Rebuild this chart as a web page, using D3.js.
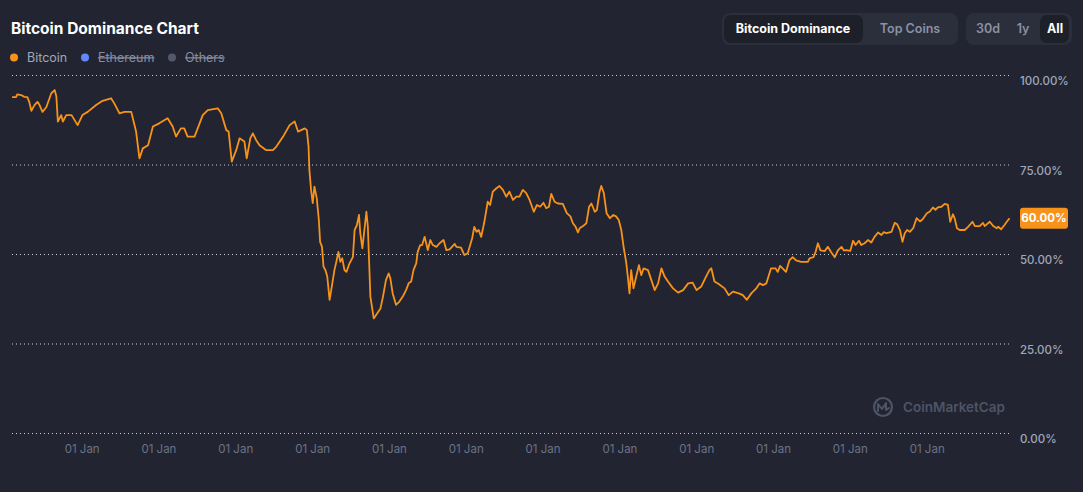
<!DOCTYPE html>
<html>
<head>
<meta charset="utf-8">
<script src="https://cdn.jsdelivr.net/npm/d3@7"></script>
<style>
  html, body { margin: 0; padding: 0; background: #222531; }
  body { width: 1083px; height: 492px; overflow: hidden; font-family: Inter, 'Noto Sans', sans-serif; }
  svg text { font-family: Inter, 'Noto Sans', sans-serif; }
</style>
</head>
<body>
<div id="chart"></div>
<script>
// bitcoin dominance
const dates = [
  '2013-04-28','2013-05-17','2013-05-23','2013-06-10','2013-06-26','2013-07-10','2013-07-19','2013-07-29',
  '2013-08-13','2013-08-27','2013-09-06','2013-09-20','2013-10-08','2013-11-01','2013-11-17','2013-11-25',
  '2013-12-02','2013-12-18','2013-12-26',
  '2014-01-11','2014-02-05','2014-03-06','2014-03-29','2014-04-23','2014-06-02','2014-07-03','2014-08-12',
  '2014-08-28','2014-09-21','2014-10-15','2014-11-16','2014-12-09','2014-12-25',
  '2015-01-10','2015-02-04','2015-02-27','2015-03-29','2015-05-08','2015-06-01','2015-06-17','2015-07-10',
  '2015-07-26','2015-08-11','2015-09-13','2015-10-22','2015-11-15','2016-01-01',
  '2016-01-18','2016-02-11','2016-02-22','2016-03-08','2016-03-29','2016-04-14','2016-05-07','2016-05-18',
  '2016-06-04','2016-06-16','2016-07-02','2016-07-18','2016-08-19','2016-09-20','2016-10-06','2016-11-07',
  '2016-12-08','2017-01-01',
  '2017-01-17','2017-02-18','2017-02-28','2017-03-08','2017-03-12','2017-03-20','2017-03-28','2017-04-05',
  '2017-04-16','2017-04-26','2017-05-02','2017-05-11','2017-05-18','2017-05-27','2017-06-05','2017-06-16',
  '2017-06-24','2017-07-09','2017-07-20','2017-07-28','2017-08-06','2017-08-15','2017-08-26','2017-09-04',
  '2017-09-19','2017-10-05','2017-10-13','2017-10-24','2017-11-03','2017-11-09','2017-11-19','2017-11-25',
  '2017-12-08','2017-12-15','2017-12-27',
  '2018-01-12','2018-01-28','2018-02-13','2018-02-25','2018-03-11','2018-03-24','2018-04-01','2018-04-12',
  '2018-04-28','2018-05-14','2018-05-30','2018-06-15','2018-06-27','2018-07-09','2018-07-20','2018-08-02',
  '2018-08-09','2018-08-21','2018-08-30','2018-09-11','2018-09-26','2018-10-08','2018-10-20','2018-11-06',
  '2018-11-21','2018-12-10','2018-12-23',
  '2019-01-08','2019-02-01','2019-02-09','2019-03-03','2019-03-19','2019-04-04','2019-04-25','2019-05-05',
  '2019-05-16','2019-05-26','2019-06-07','2019-06-22','2019-07-08','2019-07-19','2019-08-01','2019-08-17',
  '2019-09-02','2019-09-18','2019-10-04','2019-10-19','2019-11-05','2019-11-21','2019-12-06','2019-12-22',
  '2020-01-07','2020-01-23','2020-02-12','2020-02-27','2020-03-13','2020-03-29','2020-04-11','2020-04-24',
  '2020-05-05','2020-05-21','2020-06-06','2020-06-29','2020-07-18','2020-08-04','2020-08-16','2020-08-29',
  '2020-09-09','2020-09-17','2020-10-03','2020-10-19','2020-11-01','2020-11-12','2020-11-28','2020-12-08',
  '2020-12-21','2020-12-29',
  '2021-01-10','2021-01-23','2021-02-08','2021-02-24','2021-03-09','2021-03-22','2021-04-03','2021-04-14',
  '2021-04-27','2021-05-04','2021-05-12','2021-05-20','2021-05-31','2021-06-13','2021-06-26','2021-07-07',
  '2021-07-18','2021-08-08','2021-08-24','2021-09-09','2021-09-25','2021-10-11','2021-10-26','2021-11-11',
  '2021-12-05','2021-12-29',
  '2022-01-22','2022-02-15','2022-03-08','2022-03-27','2022-04-18','2022-05-11','2022-05-27','2022-06-05',
  '2022-06-20','2022-07-10','2022-08-07','2022-08-27','2022-09-16','2022-10-14','2022-11-02','2022-11-21',
  '2022-12-12',
  '2023-01-05','2023-01-21','2023-02-06','2023-02-22','2023-03-16','2023-04-06','2023-04-17','2023-04-28',
  '2023-05-10','2023-05-26','2023-06-12','2023-06-27','2023-07-13','2023-08-06','2023-09-07','2023-09-15',
  '2023-10-04','2023-10-14','2023-10-25','2023-11-06','2023-11-26','2023-12-11','2023-12-27',
  '2024-01-13','2024-01-28','2024-02-14','2024-02-25','2024-03-08','2024-03-27','2024-04-09','2024-04-21',
  '2024-05-07','2024-05-18','2024-06-03','2024-06-19','2024-07-05','2024-07-20','2024-08-06','2024-08-22',
  '2024-09-02','2024-09-15','2024-10-09','2024-10-24','2024-11-05','2024-11-18','2024-11-30','2024-12-11',
  '2024-12-22',
  '2025-01-04','2025-01-20','2025-02-05','2025-02-21','2025-03-06','2025-03-26','2025-04-08','2025-04-24',
  '2025-05-06','2025-05-17','2025-06-03','2025-06-19','2025-07-04','2025-07-15','2025-07-28','2025-08-05',
  '2025-08-16','2025-08-29','2025-09-22','2025-10-08','2025-10-29','2025-11-09','2025-12-02','2025-12-18',
  '2025-12-26',
  '2026-01-19','2026-02-05','2026-02-21','2026-02-28','2026-03-14','2026-03-30','2026-04-10','2026-04-23'
];
const btcDominance = [
  93.8,93.8,94.6,94.4,93.9,93.8,92.5,90.0,
  91.6,92.5,91.6,89.7,91.0,94.9,95.8,94.0,
  87.0,88.8,87.0,
  88.8,88.8,86.0,88.8,89.7,91.6,92.8,93.5,
  92.0,89.3,89.7,89.7,84.2,76.7,
  79.5,80.4,85.6,86.5,87.9,85.6,82.8,85.1,
  85.1,82.8,82.8,88.8,90.2,90.7,
  89.3,84.6,84.2,75.8,79.0,82.3,81.4,76.7,
  82.3,83.7,81.8,80.4,79.0,79.0,80.0,82.8,
  86.0,87.0,
  84.2,85.1,84.6,80.0,73.5,67.9,64.2,68.8,
  65.6,59.5,53.4,52.0,46.5,45.5,43.7,37.2,
  40.0,45.5,48.3,50.6,47.8,48.8,45.5,45.0,
  47.4,49.2,56.7,58.1,60.9,55.8,51.6,54.8,
  61.8,57.6,38.1,
  32.0,33.4,34.8,38.1,42.7,44.6,43.2,39.0,
  35.8,36.7,38.1,40.0,41.8,42.3,45.5,47.4,
  50.6,52.5,52.5,54.8,51.1,53.9,52.5,52.0,
  53.0,53.9,51.1,
  51.3,52.8,52.0,51.8,49.7,50.2,54.4,57.6,
  56.2,56.7,54.8,59.0,64.6,63.7,67.4,68.3,
  69.0,67.9,66.0,67.4,65.1,66.0,66.0,67.9,
  67.0,65.1,61.8,63.7,63.2,64.3,62.8,63.2,
  66.8,64.6,64.1,64.0,61.4,60.5,58.6,57.6,
  56.0,57.2,57.8,58.6,63.2,64.1,61.8,62.3,
  67.4,69.0,
  67.0,61.4,60.0,60.9,60.5,59.5,56.7,52.0,
  47.4,43.7,39.0,45.5,40.4,43.7,46.9,44.1,
  46.0,45.5,42.7,39.9,41.8,46.0,43.7,42.3,
  40.4,39.2,
  39.9,41.8,42.0,39.9,40.9,43.7,45.5,46.0,
  42.3,41.6,40.4,38.5,39.5,39.0,38.5,37.2,
  39.0,
  40.4,41.8,41.3,41.8,46.0,46.0,45.0,46.7,
  46.0,45.0,48.3,49.1,48.2,47.8,47.8,48.8,
  49.1,50.6,53.0,51.0,50.8,52.0,50.5,
  49.1,51.0,52.0,51.0,51.1,50.9,53.7,52.5,
  53.7,52.5,53.0,53.9,53.2,54.8,56.0,55.3,
  56.1,55.8,56.2,58.7,58.3,56.7,53.4,55.8,
  56.7,
  56.2,57.2,60.0,59.1,59.7,61.4,61.8,63.0,
  62.3,63.0,63.2,64.0,63.7,59.0,61.1,60.0,
  57.2,56.7,56.7,57.6,59.0,57.8,57.8,58.7,
  57.8,
  59.0,57.8,57.2,57.6,56.9,58.1,59.0,60.0
];
const yTicks = [0, 25, 50, 75, 100];
const xTickYears = [2014, 2015, 2016, 2017, 2018, 2019, 2020, 2021, 2022, 2023, 2024, 2025];
const legendNames = ['Bitcoin', 'Ethereum', 'Others'];
const legendColors = ['#f7931a', '#6188ff', '#53596a'];
const tabLabels = ['Bitcoin Dominance', 'Top Coins'];
const rangeLabels = ['30d', '1y', 'All'];

const w = 1083, h = 492;
const parse = d3.timeParse('%Y-%m-%d');
const data = dates.map((d, i) => ({date: parse(d), v: btcDominance[i]}));

const svg = d3.select('#chart').append('svg')
  .attr('width', w).attr('height', h);

svg.append('rect').attr('width', w).attr('height', h).attr('fill', '#222531');

const xScale = d3.scaleTime()
  .domain([parse('2013-04-28'), parse('2026-04-30')])
  .range([12, 1011]);
const yScale = d3.scaleLinear().domain([0, 100]).range([433, 75]);

// gridlines
svg.append('g').selectAll('line')
  .data(yTicks).enter().append('line')
  .attr('x1', 12).attr('x2', 1009)
  .attr('y1', d => yScale(d) + 0.5).attr('y2', d => yScale(d) + 0.5)
  .attr('stroke', '#c9ced9')
  .attr('stroke-width', 1)
  .attr('stroke-dasharray', '1,3');

// y labels on the right
svg.append('g').selectAll('text')
  .data(yTicks).enter().append('text')
  .attr('x', 1020).attr('y', d => yScale(d) + 6)
  .attr('dy', '0.35em')
  .attr('fill', '#a1a7bb')
  .attr('font-size', 11.5)
  .attr('font-weight', 500)
  .text(d => d.toFixed(2) + '%');

// x axis, labels only
const xAxis = d3.axisBottom(xScale)
  .tickValues(xTickYears.map(y => new Date(y, 0, 1)))
  .tickFormat(d3.timeFormat('%d %b'))
  .tickSize(0);
const xg = svg.append('g').attr('transform', 'translate(0,443)').call(xAxis);
xg.select('.domain').remove();
xg.selectAll('text')
  .attr('text-anchor', 'start')
  .attr('dy', '0.35em')
  .attr('y', 6)
  .attr('fill', '#6b7287')
  .attr('font-size', 11.5)
  .style('font-family', 'Inter, sans-serif');

// watermark
const wm = svg.append('g').attr('transform', 'translate(883,407)');
wm.append('circle').attr('r', 9).attr('fill', 'none').attr('stroke', '#4e5466').attr('stroke-width', 2.2);
wm.append('path').attr('d', 'M-5,4 L-5,-3 L-1,2 L3,-4 L3,3 L6,1')
  .attr('fill', 'none').attr('stroke', '#4e5466').attr('stroke-width', 2).attr('stroke-linejoin', 'round').attr('stroke-linecap', 'round');
wm.append('text').attr('x', 20).attr('y', 0).attr('dy', '0.35em')
  .attr('fill', '#4e5466').attr('font-size', 13.5).attr('font-weight', 600)
  .text('CoinMarketCap');

// the line
const line = d3.line().x(d => xScale(d.date)).y(d => yScale(d.v)).curve(d3.curveLinear);
svg.append('path').datum(data)
  .attr('d', line)
  .attr('fill', 'none')
  .attr('stroke', '#f7931a')
  .attr('stroke-width', 1.8)
  .attr('stroke-linejoin', 'round');

// current value badge
const last = data[data.length - 1];
const badgeY = yScale(last.v);
svg.append('rect')
  .attr('x', 1020).attr('y', badgeY - 10.5)
  .attr('width', 48).attr('height', 21).attr('rx', 3)
  .attr('fill', '#f7931a');
svg.append('text')
  .attr('x', 1044).attr('y', badgeY).attr('dy', '0.35em')
  .attr('text-anchor', 'middle')
  .attr('fill', '#ffffff').attr('font-size', 11.5).attr('font-weight', 700)
  .text(last.v.toFixed(2) + '%');

// title
svg.append('text')
  .attr('x', 11).attr('y', 29).attr('dy', '0.35em')
  .attr('fill', '#ffffff').attr('font-size', 15.5).attr('font-weight', 700)
  .text('Bitcoin Dominance Chart');

// legend
const legendX = [14, 85, 172];
const lg = svg.append('g').selectAll('g')
  .data(legendNames).enter().append('g')
  .attr('transform', (d, i) => `translate(${legendX[i]},57.5)`);
lg.append('circle').attr('r', 4).attr('fill', (d, i) => legendColors[i]);
lg.append('text')
  .attr('x', 13).attr('dy', '0.35em')
  .attr('fill', (d, i) => i === 0 ? '#a1a7bb' : '#858ca2')
  .attr('font-size', 12.5)
  .style('text-decoration', (d, i) => i === 0 ? 'none' : 'line-through')
  .text(d => d);

// tab buttons
svg.append('rect').attr('x', 722).attr('y', 13).attr('width', 236).attr('height', 32).attr('rx', 8).attr('fill', '#2b2e3b');
svg.append('rect').attr('x', 724).attr('y', 15).attr('width', 139).attr('height', 28).attr('rx', 7).attr('fill', '#1e2029');
svg.selectAll('.tab').data(tabLabels).enter().append('text')
  .attr('class', 'tab')
  .attr('x', (d, i) => [793, 910][i]).attr('y', 29).attr('dy', '0.35em')
  .attr('text-anchor', 'middle')
  .attr('fill', (d, i) => i === 0 ? '#ffffff' : '#8a91a5')
  .attr('font-size', 12.5).attr('font-weight', (d, i) => i === 0 ? 700 : 600)
  .text(d => d);

svg.append('rect').attr('x', 966).attr('y', 13).attr('width', 106).attr('height', 32).attr('rx', 8).attr('fill', '#2b2e3b');
svg.append('rect').attr('x', 1040).attr('y', 15).attr('width', 29).attr('height', 28).attr('rx', 7).attr('fill', '#1e2029');
svg.selectAll('.range').data(rangeLabels).enter().append('text')
  .attr('class', 'range')
  .attr('x', (d, i) => [988, 1023, 1055][i]).attr('y', 29).attr('dy', '0.35em')
  .attr('text-anchor', 'middle')
  .attr('fill', (d, i) => i === 2 ? '#ffffff' : '#8a91a5')
  .attr('font-size', 12.5).attr('font-weight', (d, i) => i === 2 ? 700 : 600)
  .text(d => d);
</script>
</body>
</html>
